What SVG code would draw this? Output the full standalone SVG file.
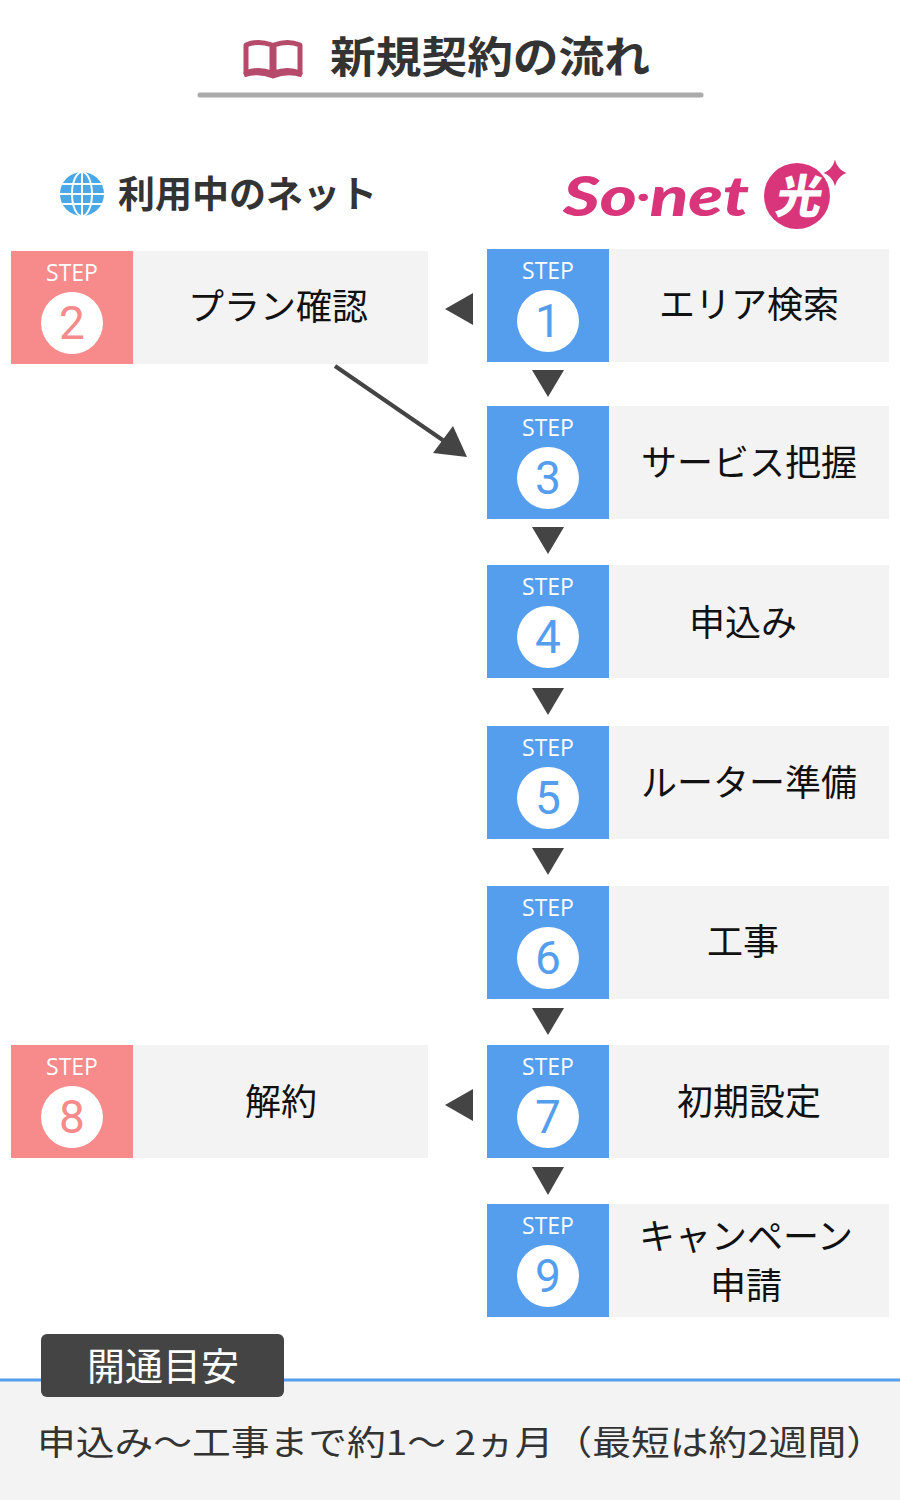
<svg xmlns="http://www.w3.org/2000/svg" width="900" height="1500" viewBox="0 0 900 1500">
<style>
.title{font-family:"Noto Sans CJK JP",sans-serif;font-weight:700;fill:#333}
.stepbox{fill:#559ded}
.stepboxp{fill:#f78a8a}
.content{fill:#f3f3f3}
.steplbl{font-family:"Open Sans","Noto Sans",sans-serif;font-size:23px;fill:#fff;text-anchor:middle}
.num{font-family:"Roboto","Noto Sans",sans-serif;font-size:46px;text-anchor:middle}
.nb{fill:#559ded}
.np{fill:#f78a8a}
.txt{font-family:"Noto Sans CJK JP",sans-serif;font-size:36px;fill:#111;text-anchor:middle}
.tri{fill:#444}
</style>
<rect width="900" height="1500" fill="#fff"/>
<g id="title">
<path d="M246,45 Q258,40 272,45 L272,73 Q258,68 246,73 Z M274,45 Q288,40 300,45 L300,73 Q288,68 274,73 Z" fill="none" stroke="#b54a6a" stroke-width="5" stroke-linejoin="round"/>
<path d="M244,75 Q258,70 273,76 Q288,70 302,75" fill="none" stroke="#b54a6a" stroke-width="5"/>
<text x="330" y="73" class="title" font-size="43" textLength="320" lengthAdjust="spacingAndGlyphs">新規契約の流れ</text>
<line x1="200" y1="95" x2="701" y2="95" stroke="#aaa" stroke-width="5" stroke-linecap="round"/>
</g>
<g id="current-net">
<circle cx="82" cy="194" r="22" fill="#4aa8e8"/>
<g fill="none" stroke="#fff" stroke-width="2">
<ellipse cx="82" cy="194" rx="10" ry="22"/>
<line x1="82" y1="172" x2="82" y2="216"/>
<line x1="62" y1="184" x2="102" y2="184"/>
<line x1="60" y1="194" x2="104" y2="194"/>
<line x1="62" y1="204" x2="102" y2="204"/>
</g>
<text x="118" y="208" class="title" font-size="37">利用中のネット</text>
</g>
<g id="sonet-logo">
<text x="563" y="216" font-family="Lato,'Liberation Sans',sans-serif" font-weight="900" font-style="italic" font-size="56" fill="#d8357a" textLength="186" lengthAdjust="spacingAndGlyphs">So<tspan font-size="36" dy="-8">·</tspan><tspan dy="8">net</tspan></text>
<circle cx="797" cy="196" r="33" fill="#d8357a"/>
<g transform="translate(797,213) skewX(-10)">
<text x="0" y="0" font-family="'Noto Sans CJK JP',sans-serif" font-weight="900" font-size="46" fill="#fff" text-anchor="middle">光</text>
</g>
<path d="M835,156 Q837,170 849,173 Q837,176 835,190 Q833,176 821,173 Q833,170 835,156 Z" fill="#d8357a" stroke="#fff" stroke-width="1.5"/>
</g>
<g id="connectors">
<polygon class="tri" points="445,309 473,293 473,325"/>
<polygon class="tri" points="445,1105 473,1089 473,1121"/>
<polygon class="tri" points="532,370 564,370 548,397"/>
<polygon class="tri" points="532,527 564,527 548,554"/>
<polygon class="tri" points="532,688 564,688 548,715"/>
<polygon class="tri" points="532,848 564,848 548,875"/>
<polygon class="tri" points="532,1008 564,1008 548,1035"/>
<polygon class="tri" points="532,1167 564,1167 548,1195"/>
<line x1="335" y1="366" x2="447" y2="443" stroke="#444" stroke-width="4"/>
<polygon class="tri" points="467,457 433,453 453,426"/>
</g>
<g id="step1">
<rect x="487" y="249" width="122" height="113" class="stepbox"/>
<rect x="609" y="249" width="280" height="113" class="content"/>
<text x="548" y="279" class="steplbl">STEP</text>
<circle cx="548" cy="321" r="31" fill="#fff"/>
<text x="548" y="337" class="num nb">1</text>
<text x="749" y="318" class="txt">エリア検索</text>
</g>
<g id="step2">
<rect x="11" y="251" width="122" height="113" class="stepboxp"/>
<rect x="133" y="251" width="295" height="113" class="content"/>
<text x="72" y="281" class="steplbl">STEP</text>
<circle cx="72" cy="323" r="31" fill="#fff"/>
<text x="72" y="339" class="num np">2</text>
<text x="278" y="320" class="txt">プラン確認</text>
</g>
<g id="step3">
<rect x="487" y="406" width="122" height="113" class="stepbox"/>
<rect x="609" y="406" width="280" height="113" class="content"/>
<text x="548" y="436" class="steplbl">STEP</text>
<circle cx="548" cy="478" r="31" fill="#fff"/>
<text x="548" y="494" class="num nb">3</text>
<text x="749" y="476" class="txt">サービス把握</text>
</g>
<g id="step4">
<rect x="487" y="565" width="122" height="113" class="stepbox"/>
<rect x="609" y="565" width="280" height="113" class="content"/>
<text x="548" y="595" class="steplbl">STEP</text>
<circle cx="548" cy="637" r="31" fill="#fff"/>
<text x="548" y="653" class="num nb">4</text>
<text x="743" y="636" class="txt">申込み</text>
</g>
<g id="step5">
<rect x="487" y="726" width="122" height="113" class="stepbox"/>
<rect x="609" y="726" width="280" height="113" class="content"/>
<text x="548" y="756" class="steplbl">STEP</text>
<circle cx="548" cy="798" r="31" fill="#fff"/>
<text x="548" y="814" class="num nb">5</text>
<text x="749" y="796" class="txt">ルーター準備</text>
</g>
<g id="step6">
<rect x="487" y="886" width="122" height="113" class="stepbox"/>
<rect x="609" y="886" width="280" height="113" class="content"/>
<text x="548" y="916" class="steplbl">STEP</text>
<circle cx="548" cy="958" r="31" fill="#fff"/>
<text x="548" y="974" class="num nb">6</text>
<text x="743" y="955" class="txt">工事</text>
</g>
<g id="step7">
<rect x="487" y="1045" width="122" height="113" class="stepbox"/>
<rect x="609" y="1045" width="280" height="113" class="content"/>
<text x="548" y="1075" class="steplbl">STEP</text>
<circle cx="548" cy="1117" r="31" fill="#fff"/>
<text x="548" y="1133" class="num nb">7</text>
<text x="749" y="1115" class="txt">初期設定</text>
</g>
<g id="step8">
<rect x="11" y="1045" width="122" height="113" class="stepboxp"/>
<rect x="133" y="1045" width="295" height="113" class="content"/>
<text x="72" y="1075" class="steplbl">STEP</text>
<circle cx="72" cy="1117" r="31" fill="#fff"/>
<text x="72" y="1133" class="num np">8</text>
<text x="281" y="1115" class="txt">解約</text>
</g>
<g id="step9">
<rect x="487" y="1204" width="122" height="113" class="stepbox"/>
<rect x="609" y="1204" width="280" height="113" class="content"/>
<text x="548" y="1234" class="steplbl">STEP</text>
<circle cx="548" cy="1276" r="31" fill="#fff"/>
<text x="548" y="1292" class="num nb">9</text>
<text x="746" y="1250" class="txt" font-size="34">キャンペーン</text>
<text x="746" y="1299" class="txt" font-size="34">申請</text>
</g>
<g id="estimate">
<rect x="0" y="1381" width="900" height="119" fill="#f3f3f3"/>
<line x1="0" y1="1380" x2="900" y2="1380" stroke="#559ded" stroke-width="3"/>
<rect x="41" y="1334" width="243" height="63" rx="6" fill="#444"/>
<text x="163" y="1380" font-family="'Noto Sans CJK JP',sans-serif" font-size="38" fill="#fff" text-anchor="middle">開通目安</text>
<text x="37" y="1455" font-family="'Noto Sans CJK JP',sans-serif" font-size="34" fill="#333" textLength="848" lengthAdjust="spacingAndGlyphs">申込み～工事まで約1～ 2ヵ月（最短は約2週間）</text>
</g>
</svg>
